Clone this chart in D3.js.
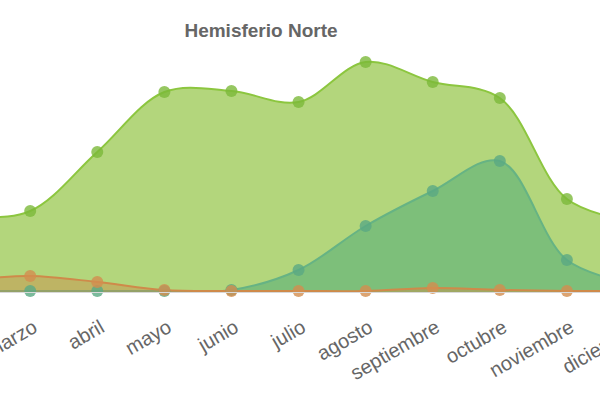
<!DOCTYPE html>
<html><head><meta charset="utf-8">
<script src="https://cdn.jsdelivr.net/npm/d3@7"></script>
<style>body{margin:0;background:#fff}svg{display:block}</style>
</head><body><svg id="c" width="600" height="400"></svg>
<script>
const months = ["enero","febrero","marzo","abril","mayo","junio","julio","agosto","septiembre","octubre","noviembre","diciembre"];
const serieA = [70, 74, 81, 140, 200, 201, 190, 230, 210, 194, 93, 70];
const serieB = [1, 1, 1, 1, 1, 2, 22, 66, 101, 131, 32, 8];
const serieC = [11, 12, 16, 10, 2, 1, 1, 1, 4, 2, 1, 1];
const title = "Hemisferio Norte";

const svg = d3.select("#c");
const x = d3.scalePoint().domain(months).range([-104, 634]);
const y = d3.scaleLinear().domain([0, 250]).range([292, 42]);

const styles = [
  {data: serieA, fill: "#b3d67c", line: "#8cc63f", dot: "#7cb93a"},
  {data: serieB, fill: "#7dbf7a", line: "#66b384", dot: "#5aa983"},
  {data: serieC, fill: "rgba(205,140,70,0.45)", line: "#cf8a4a", dot: "#d38d4f"}
];
const curve = d3.curveCatmullRom.alpha(0.5);
const area = d3.area().x((d,i)=>x(months[i])).y0(y(0)).y1(d=>y(d)).curve(curve);
const line = d3.line().x((d,i)=>x(months[i])).y(d=>y(d)).curve(curve);

svg.append("clipPath").attr("id","clip").append("rect").attr("x",-200).attr("y",0).attr("width",1000).attr("height",y(0));
const g = svg.append("g").attr("clip-path","url(#clip)");
styles.forEach(s=>{
  g.append("path").attr("d", area(s.data)).attr("fill", s.fill);
  g.append("path").attr("d", line(s.data)).attr("fill","none").attr("stroke", s.line).attr("stroke-width",2);
});
styles.forEach(s=>{
  svg.append("g").selectAll("circle").data(s.data).join("circle")
    .attr("cx",(d,i)=>x(months[i])).attr("cy",d=>y(d)).attr("r",6)
    .attr("fill", s.dot).attr("fill-opacity",0.8);
});

svg.append("line").attr("x1",0).attr("x2",600).attr("y1",y(0)+0.5).attr("y2",y(0)+0.5).attr("stroke","#d8d8d8");

const xAxis = d3.axisBottom(x).tickSize(0).tickPadding(0);
const ax = svg.append("g").attr("transform",`translate(0,${y(0)})`).call(xAxis);
ax.select(".domain").remove();
ax.selectAll("text")
  .attr("font-family","Liberation Sans, Arial, sans-serif").attr("font-size",20).attr("fill","#666")
  .attr("text-anchor","end").attr("dy",0)
  .attr("transform","translate(8,39) rotate(-30)");

svg.append("text").attr("x",261).attr("y",37).attr("text-anchor","middle")
  .attr("font-family","Liberation Sans, Arial, sans-serif").attr("font-weight","bold").attr("font-size",19).attr("fill","#666")
  .text(title);
</script></body></html>
